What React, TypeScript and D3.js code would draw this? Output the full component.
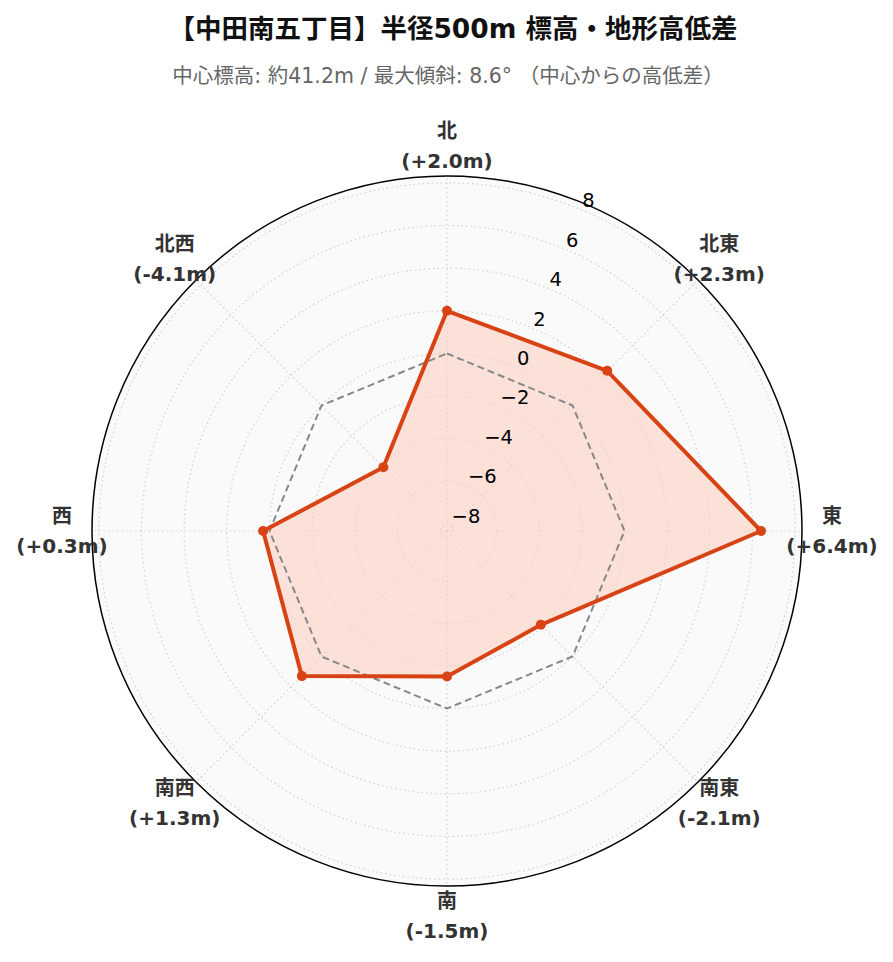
import React from "react";
import * as d3 from "d3";

const directions = ["北", "北東", "東", "南東", "南", "南西", "西", "北西"];
const diffs = [2.0, 2.3, 6.4, -2.1, -1.5, 1.3, 0.3, -4.1];
const radialTicks = [-8, -6, -4, -2, 0, 2, 4, 6, 8];
const titleText = "【中田南五丁目】半径500m 標高・地形高低差";
const subtitleText = "中心標高: 約41.2m / 最大傾斜: 8.6°  （中心からの高低差）";

const W = 893;
const H = 962;
const cx = 447;
const cy = 531;
const R = 355;
const maxAbs = d3.max(diffs.map(Math.abs)) as number;
const rLim = maxAbs * 1.3;

const rScale = d3.scaleLinear().domain([-rLim, rLim]).range([0, R]);
const angle = d3.scaleLinear().domain([0, directions.length]).range([0, 2 * Math.PI]);

const pt = (i: number, v: number): [number, number] => {
  const a = angle(i);
  const r = rScale(v);
  return [cx + r * Math.sin(a), cy - r * Math.cos(a)];
};

const fmt = (v: number) => (v >= 0 ? "+" : "-") + Math.abs(v).toFixed(1) + "m";

export default function App() {
  const lineGen = d3.line<[number, number]>().curve(d3.curveLinearClosed);
  const dataPts = diffs.map((v, i) => pt(i, v));
  const zeroPts = diffs.map((_, i) => pt(i, 0));
  const labelFont = "'DejaVu Sans', 'Noto Sans CJK JP', sans-serif";
  const labelA = angle(0.5); // 22.5 deg
  const dataPath = lineGen(dataPts) || "";
  return (
    <svg width={W} height={H} style={{ position: "absolute", left: 0, top: 0, background: "#fff" }}>
      <text x={453} y={38} textAnchor="middle" fontFamily={labelFont} fontWeight="bold" fontSize={26.5} fill="#111">
        {titleText}
      </text>
      <text x={448} y={83} textAnchor="middle" fontFamily={labelFont} fontSize={20.5} fill="#666">
        {subtitleText}
      </text>
      <circle cx={cx} cy={cy} r={R} fill="#fafafa" />
      {radialTicks.map((t) => (
        <circle key={t} cx={cx} cy={cy} r={rScale(t)} fill="none" stroke="#d0d0d0" strokeWidth={1.2} strokeDasharray="1.5,3" />
      ))}
      {directions.map((_, i) => {
        const [x, y] = pt(i, rLim);
        return <line key={i} x1={cx} y1={cy} x2={x} y2={y} stroke="#d0d0d0" strokeWidth={1.2} strokeDasharray="1.5,3" />;
      })}
      <path d={dataPath} fill="#fbd0c2" fillOpacity={0.6} stroke="none" />
      <path d={lineGen(zeroPts) || ""} fill="none" stroke="#888" strokeWidth={2} strokeDasharray="7,4" />
      <path d={dataPath} fill="none" stroke="#d84315" strokeWidth={4} strokeLinejoin="round" />
      {dataPts.map(([x, y], i) => (
        <circle key={i} cx={x} cy={y} r={5} fill="#d84315" />
      ))}
      <circle cx={cx} cy={cy} r={R} fill="none" stroke="#000" strokeWidth={1.5} />
      {radialTicks.map((t) => {
        const r = rScale(t);
        const x = cx + r * Math.sin(labelA);
        const y = cy - r * Math.cos(labelA);
        return (
          <text key={t} x={x + 2} y={y - 2} fontFamily="'DejaVu Sans', sans-serif" fontSize={19.5} fill="#000">
            {t < 0 ? "\u2212" + Math.abs(t) : String(t)}
          </text>
        );
      })}
      {directions.map((d, i) => {
        const a = angle(i);
        const rr = R + 30;
        const x = cx + rr * Math.sin(a);
        const y = cy - rr * Math.cos(a);
        return (
          <g key={d}>
            <text x={x} y={y - 8} textAnchor="middle" fontFamily={labelFont} fontWeight="bold" fontSize={20} fill="#333">
              {d}
            </text>
            <text x={x} y={y + 22} textAnchor="middle" fontFamily={labelFont} fontWeight="bold" fontSize={20} fill="#333">
              {"(" + fmt(diffs[i]) + ")"}
            </text>
          </g>
        );
      })}
    </svg>
  );
}
